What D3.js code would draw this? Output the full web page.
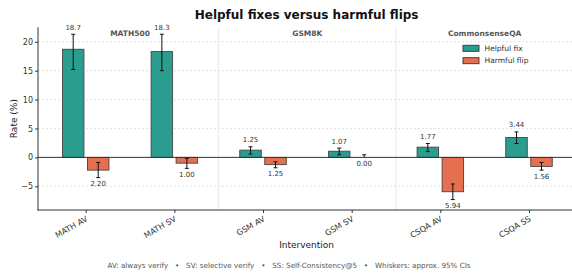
<!DOCTYPE html>
<html><head><meta charset="utf-8">
<script src="https://cdn.jsdelivr.net/npm/d3@7"></script>
<style>body{margin:0;background:#fff}svg{display:block;font-family:"DejaVu Sans",sans-serif}</style>
</head><body><svg id="c" width="572" height="273"></svg>
<script>
const categories = ["MATH AV","MATH SV","GSM AV","GSM SV","CSQA AV","CSQA SS"];
const helpful = [18.7, 18.3, 1.25, 1.07, 1.77, 3.44];
const helpfulCiLo = [15.2, 15.0, 0.57, 0.45, 1.0, 2.4];
const helpfulCiHi = [21.3, 21.3, 1.83, 1.6, 2.4, 4.4];
const harmful = [2.20, 1.00, 1.25, 0.00, 5.94, 1.56];
const harmfulCiLo = [0.87, 0.17, 0.76, -0.45, 4.6, 0.87];
const harmfulCiHi = [3.5, 1.9, 1.8, 0.0, 7.3, 2.2];
const groups = [{name:"MATH500", from:0, to:1},{name:"GSM8K", from:2, to:3},{name:"CommonsenseQA", from:4, to:5}];
const yTicks = [-5, 0, 5, 10, 15, 20];
const seriesNames = ["Helpful fix", "Harmful flip"];
const colors = ["#2a9d8f", "#e76f51"];

const svg = d3.select("#c");
const L = 38, R = 577, T = 27.3, B = 210;
const x = d3.scalePoint().domain(categories).range([85.7, 529]);
const y = d3.scaleLinear().domain([-9.1, 22.5]).range([B, T]);
const bw = 21.5, off = 12.5;

// grid
svg.append("g").selectAll("line").data(yTicks.filter(d => d !== 0)).join("line")
  .attr("x1", L).attr("x2", R).attr("y1", d => y(d)).attr("y2", d => y(d))
  .attr("stroke", "#cfcfcf").attr("stroke-width", 0.6).attr("stroke-dasharray", "2,2");

// group separators
const step = x.step();
[1, 3].forEach(i => {
  const sx = x(categories[i]) + step / 2;
  svg.append("line").attr("x1", sx).attr("x2", sx).attr("y1", T).attr("y2", B)
    .attr("stroke", "#e2e2e2").attr("stroke-width", 0.8);
});

// group labels
groups.forEach(g => {
  const cx = (x(categories[g.from]) + x(categories[g.to])) / 2;
  svg.append("text").attr("x", cx).attr("y", 36).attr("text-anchor", "middle")
    .attr("font-size", 7.5).attr("font-weight", "bold").attr("fill", "#555").text(g.name);
});

// bars
const data = categories.map((c, i) => ({c, i}));
const gB = svg.append("g");
gB.selectAll(".h").data(data).join("rect")
  .attr("x", d => x(d.c) - off - bw / 2).attr("width", bw)
  .attr("y", d => y(helpful[d.i])).attr("height", d => y(0) - y(helpful[d.i]))
  .attr("fill", colors[0]).attr("stroke", "#444").attr("stroke-width", 0.9);
gB.selectAll(".f").data(data).join("rect")
  .attr("x", d => x(d.c) + off - bw / 2).attr("width", bw)
  .attr("y", y(0)).attr("height", d => y(-harmful[d.i]) - y(0))
  .attr("fill", colors[1]).attr("stroke", "#444").attr("stroke-width", 0.9);

// zero line
svg.append("line").attr("x1", L).attr("x2", R).attr("y1", y(0)).attr("y2", y(0))
  .attr("stroke", "#333").attr("stroke-width", 1);

// error bars
function whisker(cx, v1, v2) {
  const g = svg.append("g").attr("stroke", "#111").attr("stroke-width", 1);
  g.append("line").attr("x1", cx).attr("x2", cx).attr("y1", y(v1)).attr("y2", y(v2));
  [v1, v2].forEach(v => g.append("line").attr("x1", cx - 2).attr("x2", cx + 2).attr("y1", y(v)).attr("y2", y(v)));
}
data.forEach(d => {
  whisker(x(d.c) - off, helpfulCiLo[d.i], helpfulCiHi[d.i]);
  if (harmfulCiHi[d.i] === 0) {
    const cx = x(d.c) + off;
    const g = svg.append("g").attr("stroke", "#111").attr("stroke-width", 1);
    g.append("line").attr("x1", cx).attr("x2", cx).attr("y1", y(-harmfulCiLo[d.i])).attr("y2", y(0));
    g.append("line").attr("x1", cx - 2).attr("x2", cx + 2).attr("y1", y(-harmfulCiLo[d.i])).attr("y2", y(-harmfulCiLo[d.i]));
  } else {
    whisker(x(d.c) + off, -harmfulCiLo[d.i], -harmfulCiHi[d.i]);
  }
});

// value labels
svg.append("g").selectAll("text").data(data).join("text")
  .attr("x", d => x(d.c) - off).attr("y", d => y(helpfulCiHi[d.i]) - 4.5)
  .attr("text-anchor", "middle").attr("font-size", 7).attr("fill", "#333")
  .text(d => helpful[d.i].toFixed(helpful[d.i] >= 10 ? 1 : 2));
svg.append("g").selectAll("text").data(data).join("text")
  .attr("x", d => x(d.c) + off).attr("y", d => y(Math.min(0, -harmfulCiHi[d.i])) + 8.5)
  .attr("text-anchor", "middle").attr("font-size", 7).attr("fill", "#333")
  .text(d => harmful[d.i].toFixed(2));

// axes
const ya = svg.append("g").attr("transform", `translate(${L},0)`)
  .call(d3.axisLeft(y).tickValues(yTicks).tickSize(3).tickPadding(2).tickFormat(d => d < 0 ? "\u2212" + Math.abs(d) : d));
ya.select(".domain").remove();
ya.selectAll("text").attr("font-size", 8).attr("fill", "#333").attr("font-family", "DejaVu Sans");
ya.selectAll("line").attr("stroke", "#333");
svg.append("line").attr("x1", L).attr("x2", L).attr("y1", T).attr("y2", B + 0.5).attr("stroke", "#333").attr("stroke-width", 1);

const xa = svg.append("g").attr("transform", `translate(0,${B})`)
  .call(d3.axisBottom(x).tickSize(3).tickPadding(3));
xa.select(".domain").remove();
xa.selectAll("line").attr("stroke", "#333");
xa.selectAll("text").attr("font-size", 8).attr("fill", "#333").attr("font-family", "DejaVu Sans")
  .attr("text-anchor", "end").attr("dy", null).attr("y", 0)
  .attr("transform", "translate(2,10.5) rotate(-30)");
svg.append("line").attr("x1", L - 0.5).attr("x2", R).attr("y1", B).attr("y2", B).attr("stroke", "#333").attr("stroke-width", 1);

// axis titles
svg.append("text").attr("transform", `translate(17,${(T + B) / 2}) rotate(-90)`).attr("text-anchor", "middle")
  .attr("font-size", 9).attr("fill", "#222").text("Rate (%)");
svg.append("text").attr("x", 306.6).attr("y", 248).attr("text-anchor", "middle")
  .attr("font-size", 9).attr("fill", "#222").text("Intervention");

// title
svg.append("text").attr("x", 306.6).attr("y", 19).attr("text-anchor", "middle")
  .attr("font-size", 12).attr("font-weight", "bold").attr("fill", "#111").text("Helpful fixes versus harmful flips");

// legend
seriesNames.forEach((n, i) => {
  const ly = 48.3 + i * 12.4;
  svg.append("rect").attr("x", 463).attr("y", ly - 3).attr("width", 16).attr("height", 6)
    .attr("fill", colors[i]).attr("stroke", "#333").attr("stroke-width", 0.9);
  svg.append("text").attr("x", 484.5).attr("y", ly + 2.6).attr("font-size", 7.5).attr("fill", "#333").text(n);
});

// footnote
svg.append("text").attr("x", 289).attr("y", 268).attr("text-anchor", "middle")
  .attr("font-size", 7.2).attr("fill", "#555").style("white-space", "pre")
  .text("AV: always verify   \u2022   SV: selective verify   \u2022   SS: Self-Consistency@5   \u2022   Whiskers: approx. 95% CIs");
</script></body></html>
